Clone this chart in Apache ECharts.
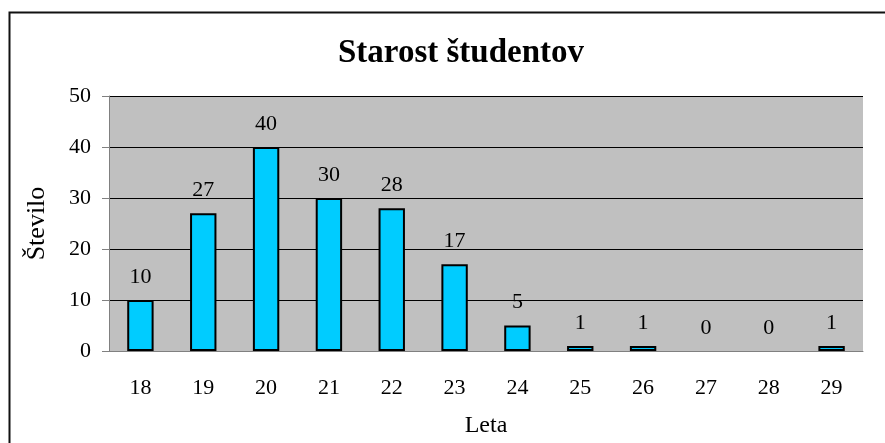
<!DOCTYPE html>
<html>
<head>
<meta charset="utf-8">
<script src="https://cdn.jsdelivr.net/npm/echarts@6/dist/echarts.min.js"></script>
<style>
  html, body { margin: 0; padding: 0; background: #fff; }
  #chart { width: 885px; height: 443px; }
</style>
</head>
<body>
<div id="chart"></div>
<script>
// starost (leta) in število študentov
const ages = ['18', '19', '20', '21', '22', '23', '24', '25', '26', '27', '28', '29'];
const counts = [10, 27, 40, 30, 28, 17, 5, 1, 1, 0, 0, 1];
const yTicks = [0, 10, 20, 30, 40, 50];

const serif = '"Liberation Serif", "Times New Roman", serif';
const chart = echarts.init(document.getElementById('chart'));

// stolpci z vrednostjo 0 nimajo obrobe (kot v Excelu)
const barData = counts.map(v => v === 0 ? { value: v, itemStyle: { borderWidth: 0 } } : v);

const option = {
  animation: false,
  backgroundColor: '#fff',
  textStyle: { fontFamily: serif, color: '#000' },
  title: {
    text: 'Starost študentov',
    left: 333,
    top: 32,
    textStyle: { fontFamily: serif, fontSize: 33, fontWeight: 'bold', color: '#000' }
  },
  grid: {
    left: 109,
    right: 22,
    top: 96,
    bottom: 90,
    show: true,
    backgroundColor: '#C0C0C0',
    borderWidth: 0
  },
  xAxis: {
    type: 'category',
    data: ages,
    name: 'Leta',
    nameLocation: 'middle',
    nameGap: 63,
    nameTextStyle: { fontFamily: serif, fontSize: 24, color: '#000' },
    axisLine: { lineStyle: { color: '#808080', width: 1 } },
    axisTick: { length: 8, lineStyle: { color: '#808080' } },
    axisLabel: { margin: 26, fontFamily: serif, fontSize: 22, color: '#000' }
  },
  yAxis: {
    type: 'value',
    min: yTicks[0],
    max: yTicks[yTicks.length - 1],
    interval: 10,
    name: 'Število',
    nameLocation: 'middle',
    nameGap: 59,
    nameTextStyle: { fontFamily: serif, fontSize: 26, color: '#000' },
    axisLine: { show: true, lineStyle: { color: '#808080', width: 1 } },
    axisTick: { show: true, length: 7, lineStyle: { color: '#808080' } },
    axisLabel: { margin: 18, fontFamily: serif, fontSize: 22, color: '#000' },
    splitLine: { lineStyle: { color: '#000', width: 1 } }
  },
  series: [{
    type: 'bar',
    data: barData,
    barWidth: '42%',
    itemStyle: { color: '#00CCFF', borderColor: '#000', borderWidth: 2 },
    label: {
      show: true,
      position: 'top',
      distance: 12,
      fontFamily: serif,
      fontSize: 22,
      color: '#000'
    }
  }],
  graphic: [{
    type: 'rect',
    shape: { x: 9.5, y: 12.5, width: 900, height: 450 },
    style: { fill: null, stroke: '#111', lineWidth: 2 },
    silent: true,
    z: 100
  }]
};

chart.setOption(option);
</script>
</body>
</html>
